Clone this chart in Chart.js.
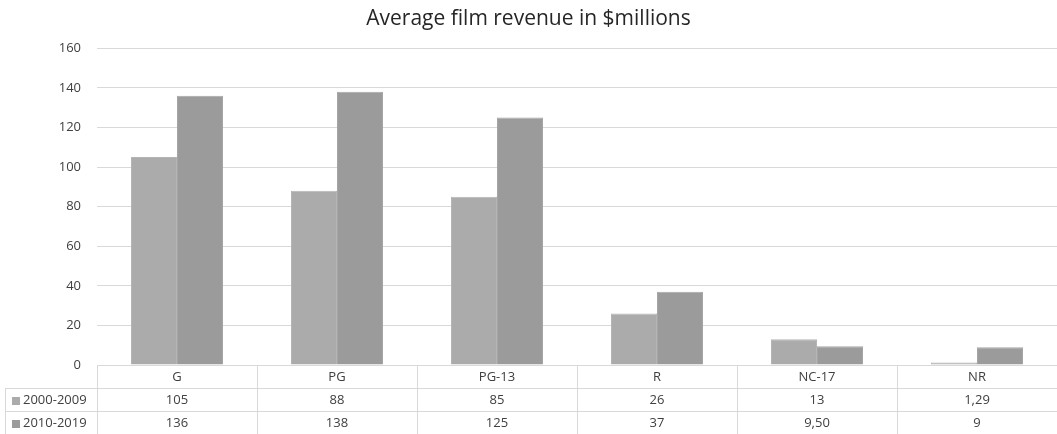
<!DOCTYPE html>
<html>
<head>
<meta charset="utf-8">
<script src="https://cdn.jsdelivr.net/npm/chart.js@4/dist/chart.umd.min.js"></script>
<style>
  html, body { margin: 0; padding: 0; background: #ffffff; }
  #wrap { width: 1057px; height: 434px; }
</style>
</head>
<body>
<div id="wrap"><canvas id="c" width="1057" height="434"></canvas></div>
<script>
const categories = ['G', 'PG', 'PG-13', 'R', 'NC-17', 'NR'];
const seriesNames = ['2000-2009', '2010-2019'];
const values2000 = [105, 88, 85, 26, 13, 1.29];
const values2010 = [136, 138, 125, 37, 9.5, 9];
const yTicks = [0, 20, 40, 60, 80, 100, 120, 140, 160];

const colors = ['#ababab', '#9b9b9b'];
const FONT = '"Open Sans", "Liberation Sans", sans-serif';
const gridColor = '#d9d9d9';
const textColor = '#404040';

function fmt(v) {
  if (Number.isInteger(v)) return String(v);
  return v.toFixed(2).replace('.', ',');
}

const tablePlugin = {
  id: 'dataTable',
  afterDraw(chart) {
    const ctx = chart.ctx;
    const xs = chart.scales.x;
    const area = chart.chartArea;
    const rowH = 23;
    const top = Math.round(area.bottom);
    const left = 5;
    const right = area.right;
    const n = categories.length;
    const catW = (area.right - area.left) / n;
    ctx.save();
    ctx.strokeStyle = gridColor;
    ctx.lineWidth = 1;
    ctx.beginPath();
    ctx.moveTo(area.left, top + 0.5); ctx.lineTo(right, top + 0.5);
    ctx.moveTo(left, top + rowH + 0.5); ctx.lineTo(right, top + rowH + 0.5);
    ctx.moveTo(left, top + 2 * rowH + 0.5); ctx.lineTo(right, top + 2 * rowH + 0.5);
    ctx.moveTo(left, top + 3 * rowH + 0.5); ctx.lineTo(right, top + 3 * rowH + 0.5);
    ctx.moveTo(left + 0.5, top + rowH); ctx.lineTo(left + 0.5, top + 3 * rowH);
    for (let i = 0; i <= n; i++) {
      const x = Math.round(xs.getPixelForValue(i) - catW / 2) + 0.5;
      ctx.moveTo(x, top); ctx.lineTo(x, top + 3 * rowH);
    }
    ctx.stroke();

    ctx.fillStyle = textColor;
    ctx.font = '13px ' + FONT;
    ctx.textAlign = 'center';
    ctx.textBaseline = 'middle';
    const rows = [values2000, values2010];
    categories.forEach((c, i) => {
      const cx = xs.getPixelForValue(i);
      ctx.fillText(c, cx, top + rowH / 2 + 1);
      rows.forEach((r, k) => {
        ctx.fillText(fmt(r[i]), cx, top + rowH * (k + 1) + rowH / 2 + 1);
      });
    });
    ctx.textAlign = 'left';
    seriesNames.forEach((s, k) => {
      const cy = top + rowH * (k + 1) + rowH / 2;
      ctx.fillStyle = colors[k];
      ctx.fillRect(12, Math.round(cy - 3), 8, 8);
      ctx.fillStyle = textColor;
      ctx.fillText(s, 23, cy + 1);
    });
    ctx.restore();
  }
};

new Chart(document.getElementById('c'), {
  type: 'bar',
  data: {
    labels: categories,
    datasets: [
      { label: seriesNames[0], data: values2000, backgroundColor: colors[0], borderColor: '#b5b5b5', borderWidth: 1 },
      { label: seriesNames[1], data: values2010, backgroundColor: colors[1], borderColor: '#a5a5a5', borderWidth: 1 }
    ]
  },
  options: {
    responsive: false,
    animation: false,
    devicePixelRatio: 1,
    layout: { padding: { left: 0, right: 0, top: 0, bottom: 69 } },
    datasets: { bar: { categoryPercentage: 0.575, barPercentage: 1 } },
    plugins: {
      legend: { display: false },
      tooltip: { enabled: false },
      title: {
        display: true,
        text: 'Average film revenue in $millions',
        color: '#262626',
        font: { family: FONT, size: 21, weight: 'normal' },
        padding: { top: 6, bottom: 17 }
      }
    },
    scales: {
      x: {
        display: false
      },
      y: {
        min: 0,
        max: 160,
        afterBuildTicks(s) { s.ticks = yTicks.map(v => ({ value: v })); },
        afterFit(s) { s.width = 97; },
        border: { display: false },
        grid: { color: gridColor, lineWidth: 1, drawTicks: false },
        ticks: {
          color: textColor,
          font: { family: FONT, size: 13 },
          padding: 16
        }
      }
    }
  },
  plugins: [tablePlugin]
});
</script>
</body>
</html>
